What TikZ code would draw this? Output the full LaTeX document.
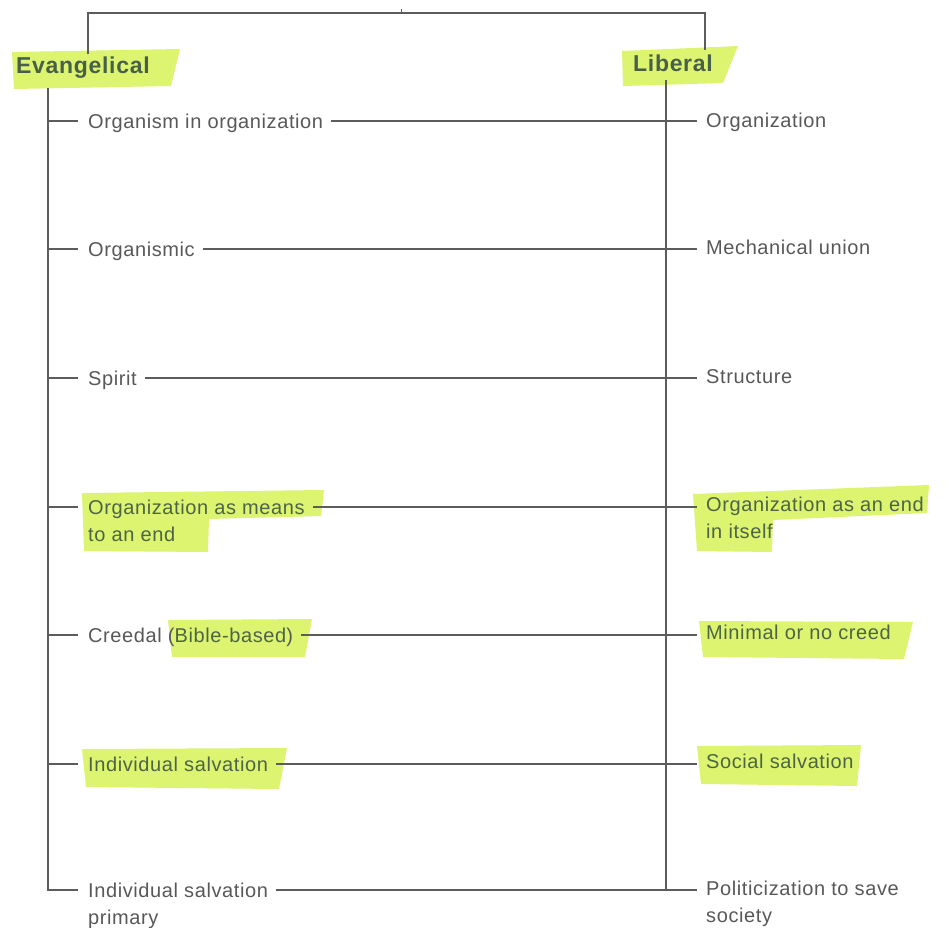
\documentclass[tikz,border=0pt]{standalone}
\usepackage{fontspec}
\setmainfont{Liberation Sans}
\newfontfamily\itemfont{Liberation Sans}[LetterSpace=3]
\newfontfamily\labfont{Liberation Sans}[LetterSpace=3]
\definecolor{txt}{RGB}{88,88,88}
\definecolor{hltxt}{RGB}{78,100,70}
\definecolor{labtxt}{RGB}{72,96,72}
\definecolor{ln}{RGB}{92,92,92}
\definecolor{hl}{RGB}{220,244,112}
\begin{document}
\begin{tikzpicture}[x=1pt,y=-1pt,
  item/.style={inner sep=0pt, anchor=base west, align=left, text=txt,
    font=\itemfont\fontsize{20}{27}\selectfont},
  hitem/.style={item, text=hltxt},
  lab/.style={inner sep=0pt, anchor=base west, text=labtxt,
    font=\labfont\bfseries\fontsize{23}{27}\selectfont},
  conn/.style={draw=ln, line width=1.1pt},
  hlmark/.style={fill=hl, draw=none}]
\useasboundingbox (0,0) rectangle (949,927);
% highlights
\fill[hlmark] (12,52) -- (180,49) -- (171,86) -- (14,89) -- cycle;
\fill[hlmark] (622,51) -- (738,46) -- (723,83) -- (623,86) -- cycle;
\fill[hlmark] (82,493) -- (324,490) -- (321,516) -- (209,519) -- (208,552) -- (84,551) -- cycle;
\fill[hlmark] (693,494) -- (929,485) -- (927,513) -- (773,520) -- (772,552) -- (697,551) -- cycle;
\fill[hlmark] (168,620) -- (312,619) -- (305,657) -- (172,657) -- cycle;
\fill[hlmark] (699,621) -- (913,622) -- (904,659) -- (703,657) -- cycle;
\fill[hlmark] (82,749) -- (287,748) -- (279,789) -- (86,787) -- cycle;
\fill[hlmark] (697,746) -- (861,745) -- (857,786) -- (701,784) -- cycle;
% row coordinates
\coordinate (lvx) at (48,0);
\coordinate (rvx) at (666,0);
\coordinate (tl) at (88,13);
\coordinate (tr) at (705,13);
\coordinate (tm) at (401,13);
\coordinate (r1) at (0,121);
\coordinate (r2) at (0,249);
\coordinate (r3) at (0,378);
\coordinate (r4) at (0,507);
\coordinate (r5) at (0,635);
\coordinate (r6) at (0,764);
\coordinate (r7) at (0,890);
% headings
\node[lab] (ev) at (16,73) {Evangelical};
\node[lab] (lib) at (633,71) {Liberal};
% left items (base = baseline of last line)
\node[item] (l1) at (88,128) {Organism in organization};
\node[item] (l2) at (88,256) {Organismic};
\node[item] (l3) at (88,385) {Spirit};
\node[hitem] (l4) at (88,541) {Organization as means\\to an end};
\node[item] (l5) at (88,642) {Creedal (\textcolor{hltxt}{Bible-based})};
\node[hitem] (l6) at (88,771) {Individual salvation};
\node[item] (l7) at (88,924) {Individual salvation\\primary};
% right items
\node[item] (q1) at (706,127) {Organization};
\node[item] (q2) at (706,254) {Mechanical union};
\node[item] (q3) at (706,383) {Structure};
\node[hitem] (q4) at (706,538) {Organization as an end\\in itself};
\node[hitem] (q5) at (706,639) {Minimal or no creed};
\node[hitem] (q6) at (706,768) {Social salvation};
\node[item] (q7) at (706,922) {Politicization to save\\society};
% bracket
\draw[conn] ([yshift=2pt]ev.north -| tl) -- (tl) -- (tr) -- ([yshift=4pt]lib.north -| tr);
\draw[conn, line width=0.6pt] (tm) -- ++(0,-4);
% verticals
\draw[conn] ([yshift=-10pt]ev.south -| lvx) -- (lvx |- r7) -- ++(30,0);
\draw[conn] ([yshift=-9pt]lib.south -| rvx) -- (rvx |- r7);
% ticks
\foreach \r in {r1,r2,r3,r4,r5,r6}{
  \draw[conn] (lvx |- \r) -- ++(30,0);
}
% connectors
\foreach \i in {1,...,7}{
  \draw[conn] ([xshift=8pt]l\i.east |- r\i) -- ([xshift=-9pt]q\i.west |- r\i);
}
\end{tikzpicture}
\end{document}
